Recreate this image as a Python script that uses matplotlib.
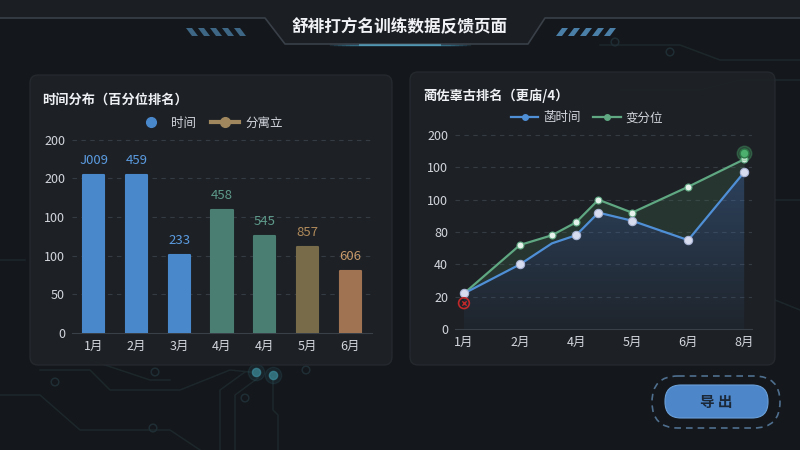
import matplotlib
matplotlib.use("Agg")
import matplotlib.pyplot as plt
import numpy as np
from matplotlib.lines import Line2D
from matplotlib.patches import FancyBboxPatch, Polygon

plt.rcParams["font.family"] = ["Noto Sans CJK SC", "DejaVu Sans"]

# left chart: bars
bar_months = ["1月", "2月", "3月", "4月", "4月", "5月", "6月"]
bar_values = [205, 205, 101, 159, 126, 111, 80]
bar_labels = ["J009", "459", "233", "458", "545", "857", "606"]
bar_colors = ["#4a88cc", "#4a88cc", "#4a88cc", "#4a7e72", "#4a7e72", "#776b4a", "#a07452"]
label_colors = ["#5b9be0", "#5b9be0", "#5b9be0", "#5e9a8a", "#5e9a8a", "#b08a5a", "#c89a6a"]
left_ticks = [0, 50, 100, 150, 200, 250]
left_tick_labels = ["0", "50", "100", "100", "200", "200"]

# right chart: lines
line_x = [0, 1, 1.57, 2, 2.4, 3, 4, 5]
blue_vals = [22, 40, 53, 58, 72, 67, 55, 97]
green_vals = [22, 52, 58, 66, 80, 72, 88, 105]
right_months = ["1月", "2月", "4月", "5月", "6月", "8月"]
right_ticks = [0, 20, 40, 60, 80, 100, 120]
right_tick_labels = ["0", "20", "40", "80", "100", "100", "200"]
red_point = (0, 16)
green_point = (5, 109)

BG = "#14171b"
PANEL = "#1e2227"
TXT = "#d3d7dd"

fig = plt.figure(figsize=(8, 4.5), dpi=100, facecolor=BG)


def px_axes(x0, y0, x1, y1, **kw):
    return fig.add_axes([x0 / 800, 1 - y1 / 450, (x1 - x0) / 800, (y1 - y0) / 450], **kw)


# background layer in pixel coords
bg = fig.add_axes([0, 0, 1, 1], zorder=-10)
bg.set_xlim(0, 800)
bg.set_ylim(450, 0)
bg.axis("off")
bg.set_facecolor(BG)

# faint circuit traces
traces = [
    [(0, 395), (40, 395), (80, 430), (170, 430), (200, 450)],
    [(40, 370), (90, 370), (110, 390), (180, 390), (230, 370), (250, 372)],
    [(90, 360), (150, 380), (170, 380)],
    [(220, 450), (220, 390), (245, 372)],
    [(235, 450), (235, 395), (258, 378)],
    [(273, 377), (273, 410), (278, 415), (278, 450)],
    [(600, 45), (680, 45), (720, 60), (800, 60)],
    [(620, 90), (700, 90), (740, 80), (800, 80)],
    [(0, 260), (25, 260)],
    [(775, 200), (800, 200)],
    [(775, 300), (800, 310)],
]
for tr in traces:
    xs, ys = zip(*tr)
    bg.plot(xs, ys, color="#1c272c", lw=1.1, zorder=0)
for cx, cy in [(55, 382), (155, 372), (245, 398), (153, 428), (306, 370), (615, 42), (670, 52)]:
    bg.scatter(cx, cy, s=30, facecolor="none", edgecolor="#1f2e34", lw=1.1, zorder=0)
for cx, cy in [(256, 372), (273, 375)]:
    bg.scatter(cx, cy, s=35, color="#3b8797", alpha=0.75, zorder=0)
    bg.scatter(cx, cy, s=140, color="#3b8797", alpha=0.12, zorder=0)

# header shape
bg.add_patch(Polygon([(0, 0), (800, 0), (800, 18), (545, 18), (528, 44), (285, 44), (265, 18), (0, 18)],
                     closed=True, facecolor="#1b1e23", edgecolor="none", zorder=1))
bg.plot([0, 265, 285, 528, 545, 800], [18, 18, 44, 44, 18, 18], color="#3a4048", lw=1.2, zorder=2)
for i in range(6):
    bg.plot([330 + i * 4, 470 - i * 4], [45, 45], color="#4fb3d9", lw=1, alpha=0.12, zorder=2)
bg.plot([360, 440], [45, 45], color="#6cc6e8", lw=1.5, alpha=0.5, zorder=2)
for i in range(5):
    x = 186 + i * 12
    bg.add_patch(Polygon([(x, 28), (x + 6, 28), (x + 12, 36), (x + 6, 36)],
                         closed=True, facecolor="#3d6785", zorder=2))
    x = 556 + i * 12
    bg.add_patch(Polygon([(x + 6, 28), (x + 12, 28), (x + 6, 36), (x, 36)],
                         closed=True, facecolor="#4a7fa8", zorder=2))
bg.text(400, 27, "舒裶打方名训练数据反馈页面", color="#f0f2f5", fontsize=12,
        fontweight="bold", ha="center", va="center", zorder=3)

# panels
for x0, y0, x1, y1 in [(30, 75, 392, 365), (410, 72, 775, 365)]:
    bg.add_patch(FancyBboxPatch((x0, y0), x1 - x0, y1 - y0,
                                boxstyle="round,pad=0,rounding_size=8",
                                facecolor=PANEL, edgecolor="#252a30", lw=1, zorder=1, alpha=0.95))
bg.text(42, 100, "时间分布（百分位排名）", color="#eef0f3", fontsize=9.5,
        fontweight="bold", ha="left", va="center", zorder=3)
bg.text(423, 96, "蔺佐辜古排名（更庙/4）", color="#eef0f3", fontsize=9.5,
        fontweight="bold", ha="left", va="center", zorder=3)

# export button
bg.add_patch(FancyBboxPatch((652, 376), 128, 52, boxstyle="round,pad=0,rounding_size=26",
                            facecolor="none", edgecolor="#4f6f8f", lw=1.2, ls=(0, (4, 3)), zorder=2))
bg.add_patch(FancyBboxPatch((665, 385), 103, 33, boxstyle="round,pad=0,rounding_size=16",
                            facecolor="#4d87c9", edgecolor="#6a9fd8", lw=0.8, zorder=3))
bg.text(716, 402, "导 出", color="#1b2838", fontsize=10.5, fontweight="bold",
        ha="center", va="center", zorder=4)

# ---- left bar chart ----
ax1 = px_axes(72, 132, 372, 333)
ax1.set_facecolor("none")
xb = np.arange(len(bar_values))
ax1.bar(xb, bar_values, width=0.5, color=bar_colors, edgecolor=bar_colors,
        lw=1.5, joinstyle="round", zorder=3)
for i, v in enumerate(bar_values):
    ax1.text(i, v + 10, bar_labels[i], color=label_colors[i], fontsize=9.5,
             ha="center", va="bottom", zorder=4)
ax1.set_xlim(-0.51, 6.51)
ax1.set_ylim(0, 260)
ax1.set_yticks(left_ticks)
ax1.set_yticklabels(left_tick_labels)
ax1.set_xticks(xb)
ax1.set_xticklabels(bar_months)
for t in left_ticks[1:]:
    ax1.axhline(t, color="#353b43", lw=0.8, ls=(0, (4, 4)), zorder=1)
for s in ["top", "right", "left"]:
    ax1.spines[s].set_visible(False)
ax1.spines["bottom"].set_color("#3a4048")
ax1.tick_params(colors=TXT, labelsize=9, length=0, pad=5)

handles = [
    Line2D([], [], ls="none", marker="o", ms=7, color="#4a88cc"),
    Line2D([], [], color="#a0875e", lw=3, marker="o", ms=7, mec="#a0875e"),
]
fig.legend(handles, ["时间", "分寓立"], loc="center", bbox_to_anchor=(210 / 800, 1 - 123 / 450),
           ncol=2, frameon=False, labelcolor=TXT, fontsize=9, handlelength=2.2,
           columnspacing=1.2, handletextpad=0.5)

# ---- right line chart ----
ax2 = px_axes(455, 127, 752, 329)
ax2.set_facecolor("none")
ax2.set_xlim(-0.16, 5.14)
ax2.set_ylim(0, 125)

# gradient under blue line
poly = ax2.fill_between(line_x, blue_vals, 0, color="none")
grad = np.zeros((100, 2, 4))
grad[:, :, 0] = 0.27
grad[:, :, 1] = 0.45
grad[:, :, 2] = 0.68
grad[:, :, 3] = np.linspace(0.05, 0.4, 100)[:, None]
im = ax2.imshow(grad, extent=[0, 5, 0, max(blue_vals)], origin="lower",
                aspect="auto", zorder=1)
im.set_clip_path(poly.get_paths()[0], transform=ax2.transData)
ax2.fill_between(line_x, blue_vals, green_vals, color="#3f6a4c", alpha=0.28, lw=0, zorder=1)

for t in right_ticks[1:]:
    ax2.axhline(t, color="#353b43", lw=0.8, ls=(0, (4, 4)), zorder=0)

ax2.plot(line_x, green_vals, color="#5fa882", lw=1.6, marker="o", ms=5,
         mfc="#e8f2ec", mec="#5fa882", mew=0.8, zorder=3)
ax2.plot(line_x, blue_vals, color="#4f8fd6", lw=1.6, marker="o", ms=6,
         mfc="#d8dcef", mec="#aab4d4", mew=0.8, markevery=[0, 1, 3, 4, 5, 6, 7], zorder=4)
ax2.scatter(*green_point, s=110, color="#4caf6e", alpha=0.3, zorder=5)
ax2.scatter(*green_point, s=40, color="#4caf6e", edgecolor="#2d7a48", zorder=6)
ax2.scatter(*red_point, s=60, facecolor="none", edgecolor="#c0282a", lw=1.2, zorder=5)
ax2.scatter(*red_point, s=10, marker="x", color="#c0282a", lw=1, zorder=5)

ax2.set_xticks(range(len(right_months)))
ax2.set_xticklabels(right_months)
ax2.set_yticks(right_ticks)
ax2.set_yticklabels(right_tick_labels)
for s in ["top", "right", "left"]:
    ax2.spines[s].set_visible(False)
ax2.spines["bottom"].set_color("#3a4048")
ax2.tick_params(colors=TXT, labelsize=9, length=0, pad=5)

handles2 = [
    Line2D([], [], color="#4f8fd6", lw=1.6, marker="o", ms=4),
    Line2D([], [], color="#5fa882", lw=1.6, marker="o", ms=4),
]
fig.legend(handles2, ["菡时间", "变分位"], loc="center", bbox_to_anchor=(587 / 800, 1 - 118 / 450),
           ncol=2, frameon=False, labelcolor=TXT, fontsize=9, handlelength=2.2,
           columnspacing=1.0, handletextpad=0.4)

fig.savefig("out.png", dpi=100, facecolor=BG)
